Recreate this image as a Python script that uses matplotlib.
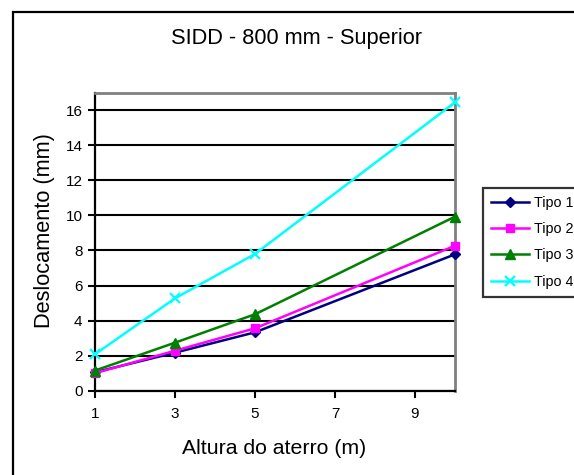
import matplotlib
matplotlib.use("Agg")
import matplotlib.pyplot as plt
from matplotlib.patches import Rectangle

plt.rcParams['font.family'] = ['Liberation Sans', 'DejaVu Sans']

# Filling heights (m) and vertical displacement (mm) per type
altura = [1, 3, 5, 10]
tipo1 = [1.05, 2.17, 3.33, 7.78]
tipo2 = [1.0, 2.28, 3.56, 8.27]
tipo3 = [1.15, 2.74, 4.36, 9.93]
tipo4 = [2.08, 5.27, 7.80, 16.45]

series_labels = ["Tipo 1", "Tipo 2", "Tipo 3", "Tipo 4"]
x_ticks = [1, 3, 5, 7, 9]
y_ticks = [0, 2, 4, 6, 8, 10, 12, 14, 16]

W, H = 574, 475
fig = plt.figure(figsize=(W / 100, H / 100), dpi=100)
fig.patch.set_facecolor("white")

# Chart-area frame
fig.patches.append(Rectangle((13 / W, -0.1), 1.2, 1 - 12 / H + 0.1,
                             transform=fig.transFigure, fill=False,
                             edgecolor="black", linewidth=1.6, zorder=0))

ax = fig.add_axes([95 / W, 1 - 390.7 / H, (455 - 95) / W, (390.7 - 92.7) / H])
ax.set_xlim(1, 10)
ax.set_ylim(0, 17)

styles = [
    dict(color="#000080", marker="D", markersize=5),
    dict(color="#FF00FF", marker="s", markersize=5.5),
    dict(color="#008000", marker="^", markersize=7),
    dict(color="#00FFFF", marker="x", markersize=7, markeredgewidth=1.6),
]
for vals, lab, st in zip([tipo1, tipo2, tipo3, tipo4], series_labels, styles):
    ax.plot(altura, vals, label=lab, linewidth=1.8, clip_on=False, zorder=3, **st)

ax.set_xticks(x_ticks)
ax.set_yticks(y_ticks)
ax.yaxis.grid(True, color="black", linewidth=1.5)
ax.set_axisbelow(True)
ax.tick_params(axis="both", direction="out", length=5, width=1.5,
               labelsize=11, colors="black", pad=4)
ax.tick_params(axis="x", pad=7)

for side in ("left", "bottom"):
    ax.spines[side].set_color("black")
    ax.spines[side].set_linewidth(1.6)
for side in ("top", "right"):
    ax.spines[side].set_color("#808080")
    ax.spines[side].set_linewidth(2)

fig.text(296.5 / W, 1 - 38.7 / H, "SIDD - 800 mm - Superior", ha="center",
         va="center", fontsize=15.7)
fig.text(274 / W, 1 - 448 / H, "Altura do aterro (m)", ha="center",
         va="center", fontsize=15.3)
fig.text(45 / W, 1 - 231 / H, "Deslocamento (mm)", ha="center",
         va="center", rotation=90, fontsize=15.7)

leg = fig.legend(loc="upper left", bbox_to_anchor=(482.7 / W, 1 - 188.3 / H),
                 bbox_transform=fig.transFigure, borderaxespad=0,
                 fontsize=10.3, frameon=True, fancybox=False,
                 handlelength=2.7, handletextpad=0.35, labelspacing=0.85,
                 borderpad=0.55)
leg.get_frame().set_edgecolor("black")
leg.get_frame().set_linewidth(1.6)

fig.savefig("out.png", dpi=100)
